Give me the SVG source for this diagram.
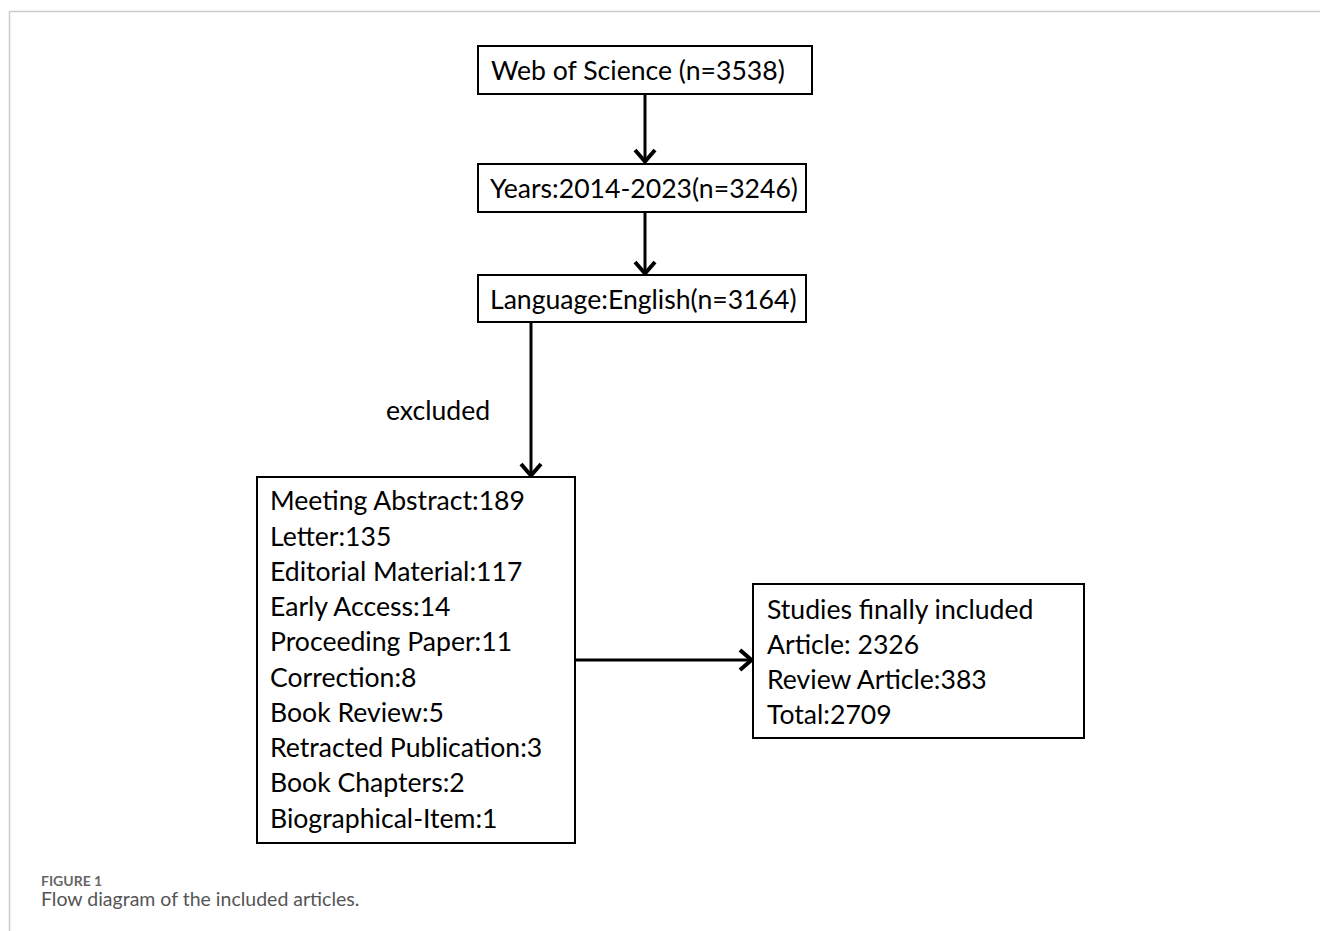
<svg xmlns="http://www.w3.org/2000/svg" width="1320" height="931" viewBox="0 0 1320 931">
<defs>
<style>
.box{fill:#fff;stroke:#000;stroke-width:2}
.t{font-family:Lato,"Open Sans","Liberation Sans",sans-serif;font-size:26.6px;fill:#000}
.ln{stroke:#000;stroke-width:3;fill:none}
.cap1{font-family:Lato,"Liberation Sans",sans-serif;font-size:14px;font-weight:bold;fill:#666}
.cap2{font-family:Lato,"Liberation Sans",sans-serif;font-size:19.5px;fill:#555}
</style>
<marker id="ah" viewBox="0 0 16 24" refX="14" refY="12" markerWidth="16" markerHeight="24" markerUnits="userSpaceOnUse" orient="auto">
<path d="M2,2 L13.5,12 L2,22" fill="none" stroke="#000" stroke-width="4"/>
</marker>
</defs>
<rect width="1320" height="931" fill="#fff"/>
<path d="M9.5,931 V11.5 H1320" fill="none" stroke="#ccc" stroke-width="1.5"/>
<g id="connectors">
<line class="ln" x1="645" y1="94" x2="645" y2="162" marker-end="url(#ah)"/>
<line class="ln" x1="645" y1="212" x2="645" y2="274" marker-end="url(#ah)"/>
<line class="ln" x1="531" y1="322" x2="531" y2="476" marker-end="url(#ah)"/>
<line class="ln" x1="575" y1="660" x2="752" y2="660" marker-end="url(#ah)"/>
<text class="t" x="386" y="420">excluded</text>
</g>
<g id="wos">
<rect class="box" x="478" y="46" width="334" height="48"/>
<text class="t" x="491" y="80">Web of Science (n=3538)</text>
</g>
<g id="years">
<rect class="box" x="478" y="164" width="328" height="48"/>
<text class="t" x="490" y="198">Years:2014-2023(n=3246)</text>
</g>
<g id="language">
<rect class="box" x="478" y="275" width="328" height="47"/>
<text class="t" x="490" y="309">Language:English(n=3164)</text>
</g>
<g id="excluded">
<rect class="box" x="257" y="477" width="318" height="366"/>
<text class="t" x="270" y="510">Meeting Abstract:189</text>
<text class="t" x="270" y="546">Letter:135</text>
<text class="t" x="270" y="581">Editorial Material:117</text>
<text class="t" x="270" y="616">Early Access:14</text>
<text class="t" x="270" y="651">Proceeding Paper:11</text>
<text class="t" x="270" y="687">Correction:8</text>
<text class="t" x="270" y="722">Book Review:5</text>
<text class="t" x="270" y="757">Retracted Publication:3</text>
<text class="t" x="270" y="792">Book Chapters:2</text>
<text class="t" x="270" y="828">Biographical-Item:1</text>
</g>
<g id="included">
<rect class="box" x="753" y="584" width="331" height="154"/>
<text class="t" x="767" y="619">Studies finally included</text>
<text class="t" x="767" y="654">Article: 2326</text>
<text class="t" x="767" y="689">Review Article:383</text>
<text class="t" x="767" y="724">Total:2709</text>
</g>
<text class="cap1" x="41" y="886">FIGURE 1</text>
<text class="cap2" x="41" y="906">Flow diagram of the included articles.</text>
</svg>
